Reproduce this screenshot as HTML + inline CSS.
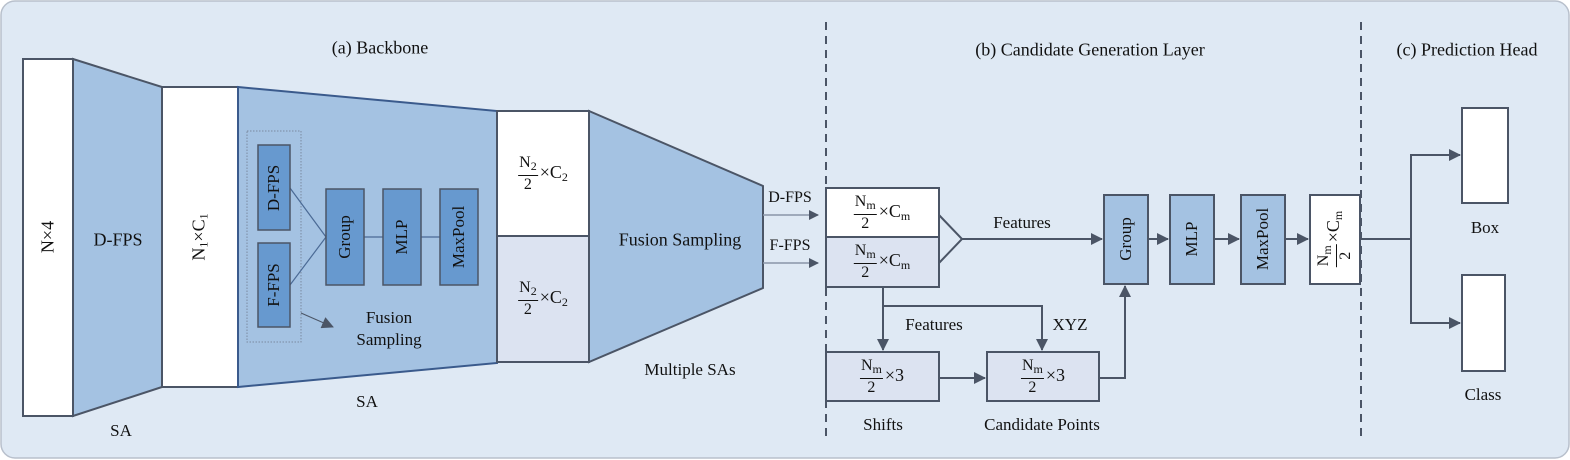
<!DOCTYPE html>
<html><head><meta charset="utf-8"><style>
body{margin:0;width:1570px;height:460px;background:#fff;position:relative;overflow:hidden;font-family:"Liberation Serif",serif;color:#111}
svg{position:absolute;left:0;top:0}
.t{position:absolute;font-size:18px;white-space:nowrap;transform:translate(-50%,-50%)}
.fr{display:inline-block;vertical-align:middle;text-align:center;font-size:16px;line-height:18px;margin-right:2px}
.fr .n{display:block;border-bottom:1.5px solid #111;padding:0 1px}
.fr .d{display:block}
sub{font-size:12px;vertical-align:-3px}
.rot{transform:translate(-50%,-50%) rotate(-90deg)}
</style></head><body>
<svg width="1570" height="460" viewBox="0 0 1570 460">
<defs><marker id="a" markerWidth="10" markerHeight="10" refX="9" refY="5" orient="auto" markerUnits="userSpaceOnUse"><path d="M0,0 L10,5 L0,10 z" fill="#4b5566"/></marker>
<marker id="b" markerWidth="12" markerHeight="12" refX="11" refY="6" orient="auto" markerUnits="userSpaceOnUse"><path d="M0,0 L12,6 L0,12 z" fill="#4b5566"/></marker></defs>
<rect x="1" y="1" width="1568" height="457" rx="14" fill="#dfe9f4" stroke="#b8c0cc" stroke-width="1.5"/>
<g stroke="#4b5566" stroke-width="2">
<rect x="23" y="59" width="50" height="357" fill="#fff"/>
<polygon points="73,59 162,87 162,387 73,416" fill="#a4c2e2"/>
<rect x="162" y="87" width="76" height="300" fill="#fff"/>
<polygon points="238,87 497,111 497,363 238,387" fill="#a4c2e2" stroke="#3a5a8c"/>
<rect x="497" y="111" width="92" height="125" fill="#fff"/>
<rect x="497" y="236" width="92" height="126" fill="#dce3f1"/>
<polygon points="589,111 763,186 763,288 589,362" fill="#a4c2e2"/>
</g>
<rect x="247" y="131" width="54" height="211" fill="none" stroke="#7a8aa0" stroke-width="1" stroke-dasharray="1.5,1.5"/>
<g stroke="#4b6a95" stroke-width="1.2" fill="none"><line x1="290" y1="188" x2="326" y2="237"/><line x1="290" y1="285" x2="326" y2="237"/><line x1="364" y1="237" x2="383" y2="237"/><line x1="421" y1="237" x2="440" y2="237"/></g>
<g fill="#6799cf" stroke="#4b5566" stroke-width="1.5">
<rect x="258" y="145" width="32" height="85"/><rect x="258" y="243" width="32" height="84"/>
<rect x="326" y="189" width="38" height="96"/><rect x="383" y="189" width="38" height="96"/><rect x="440" y="189" width="38" height="96"/>
</g>
<line x1="301" y1="313" x2="333" y2="327" stroke="#4b5566" stroke-width="1" marker-end="url(#b)"/>
<g stroke="#8a96a8" stroke-width="1.5"><line x1="763" y1="215" x2="818" y2="215" marker-end="url(#a)"/><line x1="763" y1="263" x2="818" y2="263" marker-end="url(#a)"/></g>
<g stroke="#4b5566" stroke-width="2" fill="none" stroke-dasharray="8,6"><line x1="826" y1="22" x2="826" y2="440"/><line x1="1361" y1="22" x2="1361" y2="440"/></g>
<g stroke="#4b5566" stroke-width="2">
<rect x="826" y="188" width="113" height="49" fill="#fff"/>
<rect x="826" y="237" width="113" height="50" fill="#dce3f1"/>
<rect x="826" y="352" width="113" height="49" fill="#dce3f1"/>
<rect x="987" y="352" width="112" height="49" fill="#dce3f1"/>
<rect x="1104" y="195" width="44" height="89" fill="#a4c2e2"/>
<rect x="1170" y="195" width="44" height="89" fill="#a4c2e2"/>
<rect x="1241" y="195" width="44" height="89" fill="#a4c2e2"/>
<rect x="1310" y="195" width="50" height="89" fill="#fff"/>
<rect x="1462" y="108" width="46" height="95" fill="#fff"/>
<rect x="1462" y="275" width="43" height="96" fill="#fff"/>
<g fill="none">
<polyline points="939,215 962,239 939,263"/>
<line x1="962" y1="239" x2="1102" y2="239" marker-end="url(#b)"/>
<line x1="1148" y1="239" x2="1168" y2="239" marker-end="url(#b)"/>
<line x1="1214" y1="239" x2="1239" y2="239" marker-end="url(#b)"/>
<line x1="1285" y1="239" x2="1308" y2="239" marker-end="url(#b)"/>
<line x1="883" y1="287" x2="883" y2="350" marker-end="url(#b)"/>
<polyline points="883,306 1042,306 1042,350" marker-end="url(#b)"/>
<line x1="939" y1="378" x2="985" y2="378" marker-end="url(#b)"/>
<polyline points="1099,378 1125,378 1125,286" marker-end="url(#b)"/>
<line x1="1360" y1="239" x2="1411" y2="239"/>
<polyline points="1411,239 1411,155 1460,155" marker-end="url(#b)"/>
<polyline points="1411,239 1411,323 1460,323" marker-end="url(#b)"/>
</g></g>
</svg>
<div class="t" style="left:380px;top:48px">(a) Backbone</div>
<div class="t" style="left:1090px;top:50px">(b) Candidate Generation Layer</div>
<div class="t" style="left:1467px;top:50px">(c) Prediction Head</div>
<div class="t rot" style="left:48px;top:237px">N×4</div>
<div class="t" style="left:118px;top:240px">D-FPS</div>
<div class="t rot" style="left:200px;top:237px">N<sub>1</sub>×C<sub>1</sub></div>
<div class="t rot" style="left:274px;top:188px;font-size:17px">D-FPS</div>
<div class="t rot" style="left:274px;top:285px;font-size:17px">F-FPS</div>
<div class="t rot" style="left:345px;top:237px;font-size:17px">Group</div>
<div class="t rot" style="left:402px;top:237px;font-size:17px">MLP</div>
<div class="t rot" style="left:459px;top:237px;font-size:17px">MaxPool</div>
<div class="t" style="left:389px;top:318px;font-size:17px">Fusion</div>
<div class="t" style="left:389px;top:340px;font-size:17px">Sampling</div>
<div class="t" style="left:367px;top:402px;font-size:17px">SA</div>
<div class="t" style="left:121px;top:431px;font-size:17px">SA</div>
<div class="t" style="left:543px;top:174px"><span class="fr"><span class="n">N<sub>2</sub></span><span class="d">2</span></span>×C<sub>2</sub></div>
<div class="t" style="left:543px;top:299px"><span class="fr"><span class="n">N<sub>2</sub></span><span class="d">2</span></span>×C<sub>2</sub></div>
<div class="t" style="left:680px;top:240px">Fusion Sampling</div>
<div class="t" style="left:690px;top:370px;font-size:17px">Multiple SAs</div>
<div class="t" style="left:790px;top:198px;font-size:16px">D-FPS</div>
<div class="t" style="left:790px;top:246px;font-size:16px">F-FPS</div>
<div class="t" style="left:882px;top:213px"><span class="fr"><span class="n">N<sub>m</sub></span><span class="d">2</span></span>×C<sub>m</sub></div>
<div class="t" style="left:882px;top:262px"><span class="fr"><span class="n">N<sub>m</sub></span><span class="d">2</span></span>×C<sub>m</sub></div>
<div class="t" style="left:882px;top:377px"><span class="fr"><span class="n">N<sub>m</sub></span><span class="d">2</span></span>×3</div>
<div class="t" style="left:1043px;top:377px"><span class="fr"><span class="n">N<sub>m</sub></span><span class="d">2</span></span>×3</div>
<div class="t" style="left:1022px;top:223px;font-size:17px">Features</div>
<div class="t" style="left:934px;top:325px;font-size:17px">Features</div>
<div class="t" style="left:1070px;top:325px;font-size:17px">XYZ</div>
<div class="t" style="left:883px;top:425px;font-size:17px">Shifts</div>
<div class="t" style="left:1042px;top:425px;font-size:17px">Candidate Points</div>
<div class="t rot" style="left:1126px;top:239px;font-size:17px">Group</div>
<div class="t rot" style="left:1192px;top:239px;font-size:17px">MLP</div>
<div class="t rot" style="left:1263px;top:239px;font-size:17px">MaxPool</div>
<div class="t rot" style="left:1335px;top:239px"><span class="fr"><span class="n">N<sub>m</sub></span><span class="d">2</span></span>×C<sub>m</sub></div>
<div class="t" style="left:1485px;top:228px;font-size:17px">Box</div>
<div class="t" style="left:1483px;top:395px;font-size:17px">Class</div>
</body></html>
